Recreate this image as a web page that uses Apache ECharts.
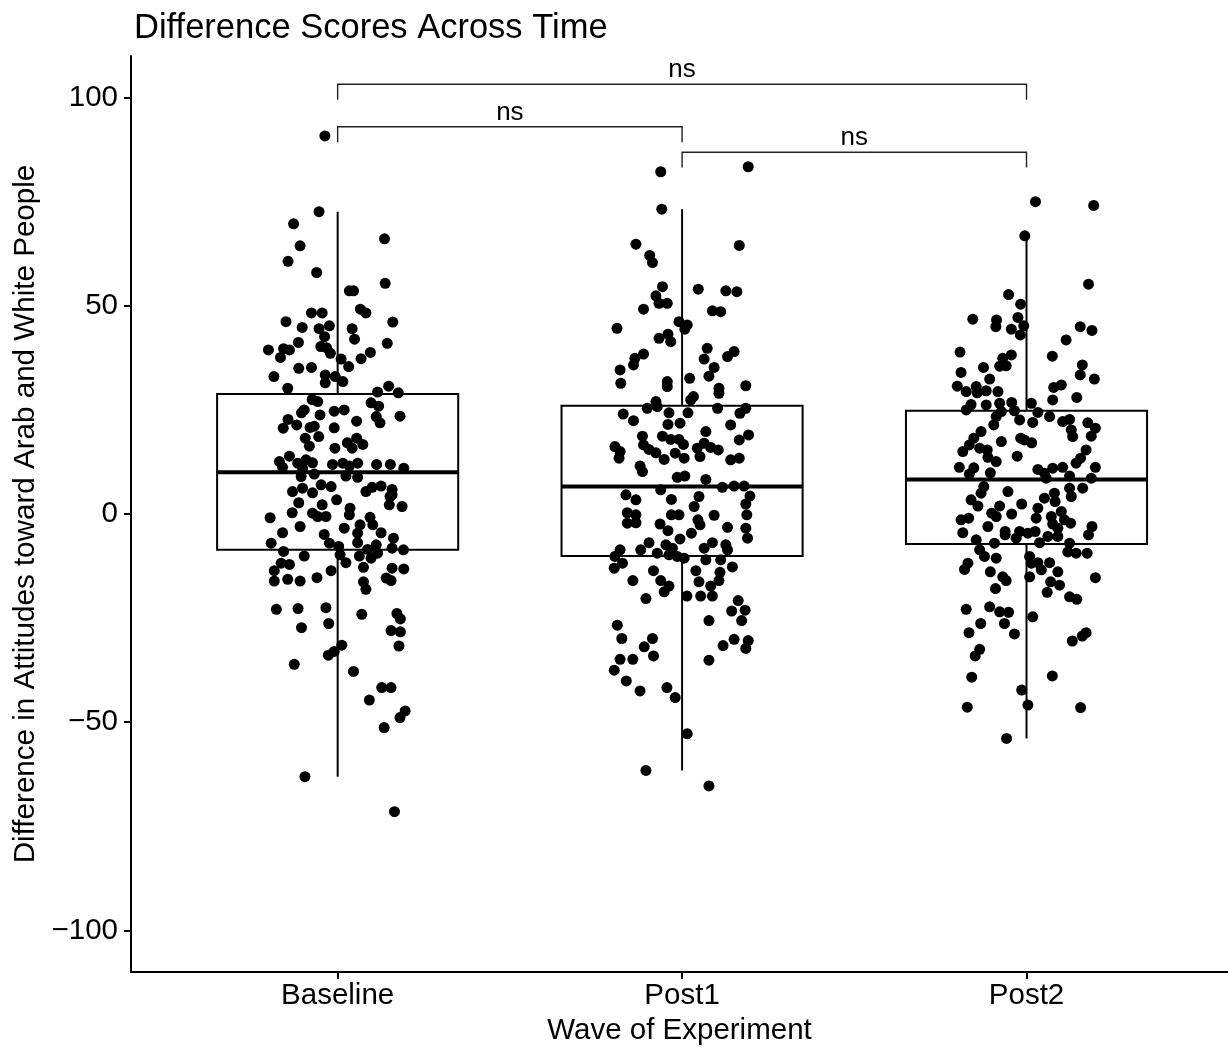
<!DOCTYPE html>
<html><head><meta charset="utf-8">
<script src="https://cdn.jsdelivr.net/npm/echarts@6/dist/echarts.min.js"></script>
<style>html,body{margin:0;padding:0;background:#fff}#chart{width:1228px;height:1049px}</style>
</head><body><div id="chart"></div>
<script>
const categories = ['Baseline', 'Post1', 'Post2'];
const yTicks = [-100, -50, 0, 50, 100];
const titleText = 'Difference Scores Across Time';
const xTitle = 'Wave of Experiment';
const yTitle = 'Difference in Attitudes toward Arab and White People';

// box statistics per category: [lower whisker, Q1, median, Q3, upper whisker]
const boxBaseline = [-63.1, -8.6, 10.0, 28.8, 72.6];
const boxPost1 = [-61.6, -10.1, 6.6, 26.0, 73.2];
const boxPost2 = [-53.9, -7.2, 8.3, 24.8, 66.8];

// significance comparisons: [from category, to category], bracket height, label
const comparisons = [['Baseline', 'Post2'], ['Baseline', 'Post1'], ['Post1', 'Post2']];
const bracketY = [103.2, 93.0, 86.9];
const bracketLabels = ['ns', 'ns', 'ns'];

// jittered points: [horizontal jitter (category units), value]
const ptsBaseline = [[-0.037,90.8],[-0.054,72.6],[-0.128,69.7],[0.136,66.1],[-0.109,64.4],[-0.144,60.7],[-0.061,58.0],[0.138,55.4],[0.034,53.6],[0.046,53.6],[-0.076,48.3],[-0.045,48.3],[0.066,49.2],[0.082,48.3],[-0.150,46.2],[0.160,46.1],[-0.103,44.8],[-0.054,44.5],[-0.024,45.2],[0.042,44.5],[-0.038,42.6],[0.049,42.0],[-0.114,41.2],[0.144,41.0],[-0.201,39.4],[-0.157,39.7],[-0.140,39.4],[-0.049,40.2],[-0.032,39.9],[-0.021,38.6],[0.095,38.8],[-0.166,37.6],[0.010,37.2],[0.068,37.3],[0.032,35.4],[-0.113,35.0],[-0.076,35.2],[-0.185,33.0],[-0.036,33.4],[-0.036,31.5],[-0.007,33.0],[0.015,31.8],[-0.145,30.2],[0.148,30.7],[0.116,29.3],[0.176,29.1],[-0.074,27.5],[-0.058,27.0],[0.097,26.7],[0.119,25.9],[-0.097,25.0],[-0.105,24.3],[-0.051,23.8],[-0.010,24.7],[0.019,25.0],[0.112,23.4],[0.123,21.9],[0.181,23.5],[-0.144,22.7],[-0.119,21.4],[-0.158,20.6],[0.055,22.3],[-0.080,20.8],[-0.068,21.1],[-0.010,20.7],[-0.094,18.2],[-0.082,16.3],[-0.055,18.6],[0.028,17.1],[0.055,18.2],[0.042,15.8],[0.073,16.7],[-0.008,15.8],[-0.169,12.6],[-0.140,13.9],[-0.160,11.2],[-0.116,12.2],[-0.092,13.0],[-0.073,12.3],[-0.102,11.0],[-0.015,11.9],[0.015,12.2],[0.034,11.5],[0.058,12.2],[0.113,11.9],[0.153,11.9],[0.192,11.0],[-0.106,9.0],[-0.068,9.6],[0.024,9.1],[0.058,8.8],[-0.131,5.4],[-0.102,6.2],[-0.073,5.1],[-0.048,7.0],[-0.019,6.6],[0.082,5.4],[0.100,6.4],[0.126,6.7],[0.158,5.9],[0.158,4.6],[-0.003,3.4],[-0.113,2.7],[-0.045,2.2],[-0.073,0.2],[-0.058,-0.6],[-0.034,-0.6],[0.036,1.4],[0.034,-0.2],[0.150,2.2],[0.187,1.8],[0.152,4.2],[-0.132,0.3],[-0.196,-0.9],[-0.109,-3.0],[0.019,-3.4],[0.065,-2.6],[0.058,-4.6],[0.094,-0.8],[0.102,-2.6],[0.126,-4.5],[-0.160,-4.5],[-0.039,-4.9],[-0.193,-7.0],[-0.024,-7.0],[0.003,-7.8],[0.058,-6.9],[0.087,-8.5],[0.112,-7.4],[0.097,-10.6],[0.116,-9.4],[0.162,-5.8],[0.158,-8.2],[0.191,-8.6],[-0.157,-9.0],[-0.097,-10.1],[0.007,-9.8],[0.024,-11.7],[0.063,-10.1],[-0.164,-11.8],[-0.140,-12.1],[-0.184,-13.6],[0.075,-12.8],[0.158,-13.0],[0.192,-13.2],[-0.019,-13.6],[-0.184,-16.1],[-0.145,-15.7],[-0.109,-16.1],[-0.060,-15.3],[0.075,-16.3],[0.141,-15.4],[0.155,-16.0],[0.082,-18.1],[-0.178,-22.9],[-0.115,-22.7],[-0.034,-22.5],[0.070,-24.1],[0.172,-23.9],[0.182,-25.2],[-0.105,-27.3],[-0.026,-26.3],[0.155,-28.0],[0.182,-28.3],[0.178,-31.7],[-0.027,-33.9],[-0.010,-33.0],[0.012,-31.5],[-0.126,-36.1],[0.046,-37.8],[0.128,-41.7],[0.155,-41.7],[0.092,-44.7],[0.181,-48.9],[0.196,-47.3],[0.135,-51.3],[-0.095,-63.1],[0.165,-71.5]];

const ptsPost1 = [[0.192,83.4],[-0.062,82.2],[-0.059,73.2],[-0.134,64.8],[0.166,64.5],[-0.094,62.1],[-0.086,60.4],[-0.057,54.6],[0.047,54.0],[0.127,53.6],[0.159,53.4],[-0.076,52.4],[-0.067,50.6],[-0.043,50.6],[-0.112,49.2],[0.088,48.8],[0.112,48.6],[-0.189,44.6],[-0.009,46.2],[0.015,45.4],[0.008,44.4],[-0.067,42.2],[-0.041,43.2],[-0.033,41.4],[0.073,39.8],[-0.112,38.4],[-0.137,37.4],[-0.141,35.8],[0.151,39.0],[0.132,37.8],[0.064,37.2],[0.093,35.2],[-0.180,34.6],[-0.178,31.4],[-0.043,31.8],[-0.043,30.6],[0.022,32.6],[0.078,33.1],[0.107,30.2],[0.107,29.0],[0.185,30.8],[0.033,28.2],[0.025,27.4],[-0.101,25.4],[-0.076,27.0],[-0.072,25.8],[0.103,25.4],[0.185,25.4],[0.168,24.2],[-0.171,24.0],[-0.141,22.4],[-0.038,24.3],[0.017,24.3],[-0.041,21.5],[-0.006,21.8],[0.141,21.4],[0.069,19.8],[-0.115,18.7],[-0.057,18.7],[-0.033,17.9],[-0.009,17.9],[0.004,16.7],[0.193,19.0],[0.166,17.8],[-0.195,16.2],[-0.180,15.0],[-0.183,13.4],[-0.112,16.6],[-0.096,15.5],[-0.076,14.7],[-0.052,13.1],[-0.020,14.6],[0.006,13.4],[0.044,15.8],[0.064,17.0],[0.052,13.8],[0.083,16.0],[0.105,15.4],[0.141,13.0],[0.166,13.4],[-0.122,11.5],[-0.115,10.2],[-0.014,8.8],[0.008,9.1],[0.069,8.3],[-0.062,5.8],[0.117,6.4],[0.151,6.7],[0.180,6.7],[-0.163,4.6],[-0.134,3.4],[-0.031,3.5],[0.049,4.2],[0.035,1.8],[0.197,4.3],[0.185,2.4],[-0.159,0.3],[-0.134,-0.2],[-0.159,-2.2],[-0.134,-2.1],[-0.031,-0.2],[-0.009,-0.2],[0.093,-0.3],[0.188,-0.2],[-0.064,-2.4],[-0.041,-4.0],[0.046,-1.4],[0.052,-2.6],[0.132,-3.2],[0.027,-4.6],[0.185,-3.4],[0.190,-5.8],[-0.006,-6.0],[-0.096,-6.9],[-0.120,-8.6],[-0.047,-7.4],[-0.028,-8.2],[-0.072,-9.4],[-0.038,-9.8],[-0.014,-10.2],[0.006,-10.6],[0.064,-8.2],[0.088,-6.9],[0.127,-7.4],[0.132,-8.6],[-0.180,-8.6],[-0.195,-10.2],[-0.173,-11.8],[-0.197,-13.0],[-0.083,-13.6],[0.069,-11.0],[0.112,-11.0],[0.040,-13.6],[0.110,-14.0],[0.107,-16.0],[0.146,-12.7],[-0.143,-16.0],[-0.062,-16.0],[-0.038,-17.3],[0.049,-16.3],[0.083,-17.3],[-0.052,-18.7],[0.014,-19.7],[0.054,-19.7],[0.088,-19.7],[-0.105,-20.3],[0.163,-20.8],[0.144,-23.3],[0.183,-23.1],[0.173,-25.6],[0.078,-25.6],[-0.188,-26.7],[-0.175,-29.9],[-0.086,-29.9],[-0.110,-31.9],[-0.083,-34.1],[0.151,-30.1],[0.192,-30.4],[0.185,-32.3],[0.119,-31.6],[-0.180,-34.9],[-0.143,-34.9],[0.078,-35.1],[-0.197,-37.5],[-0.162,-40.1],[-0.122,-42.5],[-0.044,-41.7],[-0.020,-44.1],[0.015,-52.8],[-0.105,-61.6],[0.078,-65.3]];

const ptsPost2 = [[0.026,75.0],[0.195,74.1],[-0.005,66.8],[0.180,55.2],[-0.052,52.7],[-0.017,50.4],[-0.156,46.8],[-0.087,46.6],[-0.089,45.0],[-0.025,47.2],[-0.044,44.4],[-0.008,45.2],[-0.018,43.0],[0.156,45.0],[0.190,44.1],[0.115,41.8],[-0.193,38.9],[-0.044,38.2],[-0.069,37.4],[-0.078,35.5],[-0.059,35.6],[0.075,37.9],[-0.125,35.2],[-0.190,34.0],[0.162,35.8],[0.156,33.4],[0.197,32.4],[-0.107,32.4],[-0.201,30.7],[-0.175,29.4],[-0.146,30.6],[-0.143,29.1],[-0.117,29.6],[-0.083,29.4],[0.079,30.4],[0.101,31.0],[0.076,27.4],[0.146,28.0],[-0.175,25.0],[-0.161,26.3],[-0.117,26.2],[-0.078,26.6],[-0.073,24.6],[-0.088,23.4],[-0.095,21.4],[-0.043,26.8],[-0.035,24.8],[-0.020,22.6],[0.014,26.6],[0.033,24.4],[0.018,22.0],[0.067,23.4],[0.105,22.2],[0.125,22.7],[0.130,20.2],[0.134,18.6],[0.178,21.9],[0.200,20.6],[0.188,18.7],[-0.132,19.8],[-0.153,18.2],[-0.166,16.6],[-0.185,15.0],[-0.073,17.4],[-0.017,18.2],[-0.006,17.8],[0.015,17.1],[-0.136,15.8],[-0.114,15.4],[-0.112,13.6],[-0.088,12.6],[-0.027,13.9],[0.173,15.4],[0.157,13.4],[0.144,12.2],[-0.195,11.2],[-0.153,11.1],[-0.166,9.6],[-0.105,9.9],[0.033,10.7],[0.052,9.8],[0.076,11.0],[0.105,11.2],[0.057,8.6],[0.200,11.2],[0.125,9.1],[0.188,8.6],[-0.124,6.6],[-0.132,5.0],[-0.054,5.4],[-0.161,3.4],[-0.141,1.9],[-0.014,2.4],[0.052,3.8],[0.081,5.0],[0.083,3.0],[0.125,6.2],[0.130,4.2],[0.163,6.2],[-0.078,1.9],[-0.101,0.2],[-0.088,-0.6],[-0.043,0.0],[0.033,1.4],[0.028,-1.0],[0.072,-0.6],[0.101,0.6],[0.076,-2.4],[0.110,-1.4],[0.128,-2.2],[-0.190,-1.4],[-0.168,-1.0],[-0.112,-3.0],[-0.185,-4.5],[-0.062,-4.2],[-0.062,-5.0],[-0.030,-5.8],[-0.020,-4.2],[0.004,-4.6],[0.025,-4.2],[0.062,-5.4],[0.091,-5.4],[0.091,-3.4],[0.190,-3.0],[0.180,-5.0],[-0.146,-6.2],[-0.093,-7.0],[0.038,-6.9],[-0.136,-8.6],[-0.122,-10.2],[-0.088,-10.6],[0.125,-7.0],[0.120,-9.1],[0.144,-9.4],[0.176,-9.4],[0.009,-10.2],[0.014,-11.8],[0.033,-11.7],[0.067,-11.7],[0.043,-13.4],[0.091,-13.9],[-0.170,-11.8],[-0.180,-13.3],[-0.105,-13.9],[-0.069,-15.1],[-0.059,-16.0],[0.009,-15.1],[0.070,-16.3],[0.096,-17.1],[0.200,-15.3],[-0.090,-17.9],[0.060,-18.8],[0.125,-19.9],[0.146,-20.5],[-0.175,-22.9],[-0.107,-22.3],[-0.078,-23.5],[-0.052,-23.6],[0.018,-24.7],[-0.133,-26.3],[-0.064,-26.3],[-0.167,-28.5],[-0.035,-28.8],[0.173,-28.5],[0.162,-29.3],[0.133,-30.5],[-0.136,-32.5],[-0.149,-34.1],[-0.159,-39.2],[0.075,-38.9],[-0.014,-42.3],[-0.172,-46.4],[0.004,-45.9],[0.157,-46.5],[-0.058,-53.9]];

// ---- build chart ----
const FONT = 'Liberation Sans, Arial, Helvetica, sans-serif';
const BOX_HALF = 0.35;
const TIP = 3.7;
const boxStats = [boxBaseline, boxPost1, boxPost2];
const pointSets = [ptsBaseline, ptsPost1, ptsPost2];
const scatterData = [];
pointSets.forEach((set, i) => set.forEach(p => scatterData.push([i + 1 + p[0], p[1]])));
const boxData = boxStats.map((s, i) => [i + 1].concat(s));
const bracketData = comparisons.map((c, i) => [categories.indexOf(c[0]) + 1, categories.indexOf(c[1]) + 1, bracketY[i]]);
const catPos = categories.map((c, i) => i + 1);

const chart = echarts.init(document.getElementById('chart'), null, {renderer: 'canvas'});
chart.setOption({
  animation: false,
  backgroundColor: '#ffffff',
  title: {
    text: titleText, left: 129, top: 6,
    textStyle: {fontFamily: FONT, fontSize: 34.5, fontWeight: 'normal', color: '#000'}
  },
  grid: {left: 131, top: 56, right: 0, height: 916, containLabel: false, outerBoundsMode: 'none'},
  xAxis: {
    type: 'value', min: 0.4, max: 3.585,
    name: xTitle, nameLocation: 'middle', nameGap: 44,
    nameTextStyle: {fontFamily: FONT, fontSize: 29.5, color: '#000'},
    axisLine: {show: true, onZero: false, lineStyle: {color: '#000', width: 2}},
    axisTick: {show: true, customValues: catPos, length: 7, lineStyle: {color: '#000', width: 2}},
    axisLabel: {customValues: catPos, formatter: v => categories[Math.round(v) - 1] || '', fontFamily: FONT, fontSize: 29.5, color: '#000', margin: 9},
    splitLine: {show: false}
  },
  yAxis: {
    type: 'value', min: -110, max: 110,
    name: yTitle, nameLocation: 'middle', nameGap: 83,
    nameTextStyle: {fontFamily: FONT, fontSize: 29.6, color: '#000'},
    axisLine: {show: true, onZero: false, lineStyle: {color: '#000', width: 2}},
    axisTick: {show: true, customValues: yTicks, length: 7, lineStyle: {color: '#000', width: 2}},
    axisLabel: {customValues: yTicks, formatter: v => String(v).replace('-', '\u2212'), fontFamily: FONT, fontSize: 29.5, color: '#000', margin: 13},
    splitLine: {show: false}
  },
  series: [
    {
      type: 'scatter', data: scatterData, symbol: 'circle', symbolSize: 11,
      itemStyle: {color: '#000', opacity: 1}, z: 2, silent: true
    },
    {
      type: 'custom', data: boxData, z: 3, silent: true,
      encode: {x: 0, y: [1, 2, 3, 4, 5]},
      renderItem: function (params, api) {
        const x = api.value(0);
        const mn = api.value(1), q1 = api.value(2), md = api.value(3), q3 = api.value(4), mx = api.value(5);
        const tl = api.coord([x - BOX_HALF, q3]);
        const br = api.coord([x + BOX_HALF, q1]);
        const m1 = api.coord([x - BOX_HALF, md]);
        const m2 = api.coord([x + BOX_HALF, md]);
        const top = api.coord([x, mx]);
        const bot = api.coord([x, mn]);
        const ls = {stroke: '#000', lineWidth: 2, fill: null};
        return {type: 'group', children: [
          {type: 'line', shape: {x1: top[0], y1: top[1], x2: top[0], y2: tl[1]}, style: ls},
          {type: 'line', shape: {x1: bot[0], y1: br[1], x2: bot[0], y2: bot[1]}, style: ls},
          {type: 'rect', shape: {x: tl[0], y: tl[1], width: br[0] - tl[0], height: br[1] - tl[1]}, style: {stroke: '#000', lineWidth: 2, fill: 'rgba(0,0,0,0)'}},
          {type: 'line', shape: {x1: m1[0], y1: m1[1], x2: m2[0], y2: m2[1]}, style: {stroke: '#000', lineWidth: 4}}
        ]};
      }
    },
    {
      type: 'custom', data: bracketData, z: 4, silent: true, clip: false,
      encode: {x: [0, 1], y: 2},
      renderItem: function (params, api) {
        const a = api.value(0), b = api.value(1), y = api.value(2);
        const p1 = api.coord([a, y - TIP]), p2 = api.coord([a, y]), p3 = api.coord([b, y]), p4 = api.coord([b, y - TIP]);
        return {type: 'group', children: [
          {type: 'polyline', shape: {points: [p1, p2, p3, p4]}, style: {stroke: '#222', lineWidth: 1.4, fill: null}},
          {type: 'text', x: (p2[0] + p3[0]) / 2, y: p2[1] - 1, style: {text: bracketLabels[params.dataIndex], fontFamily: FONT, fontSize: 26, fill: '#000', align: 'center', verticalAlign: 'bottom'}}
        ]};
      }
    }
  ]
});
</script>
</body></html>
